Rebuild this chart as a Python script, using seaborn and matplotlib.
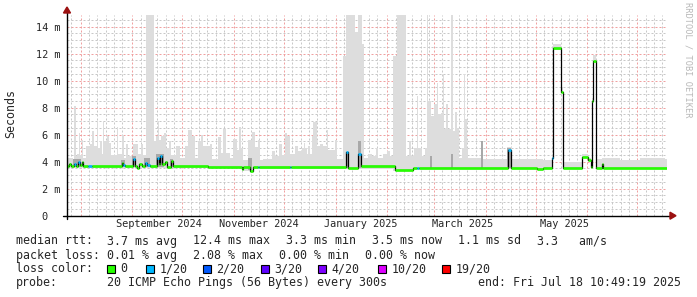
import numpy as np
import pandas as pd
import matplotlib
matplotlib.use("Agg")
import matplotlib.pyplot as plt
import seaborn as sns
from matplotlib.patches import Rectangle, Polygon

# ---------------- data ----------------
START = pd.Timestamp("2024-07-23 19:00")
SPAN_DAYS = 360
Y_MAX = 14.87

# smoke upper edge (max ping of 20) per segment: days since START, ms
smoke_day = [0, 3.6, 4.2, 5.4, 6.0, 7.2, 7.8, 9.0, 9.6, 11.4,
             13.8, 15.0, 16.2, 18.0, 18.6, 19.8, 21.0, 21.6, 22.2, 24.0,
             25.2, 26.4, 30.0, 30.6, 33.0, 34.2, 35.4, 36.6, 39.6, 42.6,
             44.4, 45.6, 47.4, 52.2, 53.4, 54.6, 55.2, 56.4, 58.2, 59.4,
             61.2, 62.4, 65.4, 67.8, 70.8, 72.6, 75.0, 76.8, 78.6, 80.4,
             81.6, 85.8, 87.0, 90.6, 92.4, 93.6, 95.4, 97.8, 99.6, 102.0,
             103.2, 104.4, 105.6, 108.6, 111.0, 112.8, 114.6, 115.8, 117.6, 123.0,
             124.8, 127.2, 129.0, 130.8, 132.0, 133.8, 136.8, 138.6, 141.0, 142.2,
             142.8, 144.0, 144.6, 145.8, 147.0, 147.6, 150.0, 151.8, 153.6, 156.0,
             156.6, 160.8, 162.0, 165.6, 167.4, 172.8, 174.6, 177.0, 178.2, 180.6,
             183.0, 185.4, 186.6, 189.6, 192.0, 193.8, 195.6, 198.0, 203.4, 205.2,
             206.4, 208.2, 210.0, 210.6, 213.0, 214.8, 216.0, 216.6, 218.4, 220.2,
             222.0, 222.6, 224.4, 225.6, 226.2, 227.4, 228.6, 230.4, 231.6, 232.8,
             234.0, 235.2, 237.0, 238.2, 238.8, 240.0, 240.6, 248.4, 249.6, 264.0,
             267.0, 282.0, 285.6, 291.0, 291.6, 296.4, 297.6, 309.0, 312.6, 314.4,
             315.0, 315.6, 317.4, 321.0, 331.8, 343.8, 358.8]
smoke_high = [4.3, 4.0, 8.1, 4.4, 4.6, 6.1, 4.5, 5.6, 4.3, 5.2,
              5.3, 6.3, 5.2, 7.0, 5.0, 5.5, 4.6, 7.0, 5.5, 5.9,
              5.4, 4.5, 6.6, 4.6, 6.0, 4.3, 5.3, 4.4, 5.3, 4.6,
              5.3, 4.5, 14.9, 5.5, 5.9, 7.0, 5.6, 5.9, 6.1, 5.0,
              5.5, 4.5, 5.2, 4.25, 5.2, 6.35, 5.9, 4.3, 5.5, 6.0,
              5.2, 5.3, 4.2, 5.8, 4.65, 6.4, 4.65, 4.3, 5.7, 4.9,
              6.6, 5.0, 4.1, 5.6, 6.2, 5.1, 5.6, 4.1, 4.2, 4.8,
              4.4, 5.3, 4.5, 6.1, 5.9, 4.6, 5.2, 4.8, 5.0, 5.4,
              5.0, 4.6, 5.2, 4.6, 5.9, 6.95, 5.2, 5.3, 5.2, 6.35,
              4.9, 5.6, 4.2, 11.8, 14.9, 13.6, 14.9, 12.7, 4.3, 4.6,
              4.4, 5.0, 4.3, 4.6, 4.8, 4.4, 11.8, 14.9, 4.4, 5.5,
              4.4, 5.0, 8.9, 5.0, 4.4, 5.0, 14.9, 8.5, 7.4, 8.3,
              9.8, 7.5, 7.6, 10.5, 6.4, 8.3, 6.4, 14.9, 6.3, 7.7,
              6.5, 4.3, 5.0, 10.5, 7.2, 5.0, 4.3, 5.4, 4.2, 5.1,
              4.2, 4.2, 4.1, 4.4, 12.7, 9.5, 3.95, 4.6, 4.3, 3.9,
              8.7, 11.9, 4.2, 4.3, 4.1, 4.3, 4.2]

# smoke lower edge (min ping of 20): days since START, ms
low_day = [0, 105.0, 112.2, 195.6, 208.2, 282.0, 285.6, 291.6, 296.4, 297.6,
           309.0, 312.6, 314.4, 315.0, 315.6, 317.4]
low_ms = [3.55, 3.3, 3.45, 3.3, 3.45, 3.35, 3.45, 12.25, 9.1, 3.45,
          4.3, 4.05, 3.5, 8.4, 11.4, 3.45]

# darker inner smoke bands (start day, end day, low ms, high ms)
dark_start = [3.6, 32.4, 39.0, 46.2, 53.4, 61.8, 108.6, 167.4, 174.6, 217.8, 230.4, 248.4, 264.0]
dark_end = [8.4, 34.8, 41.4, 49.8, 58.2, 63.6, 111.0, 168.6, 176.4, 219.0, 231.6, 249.6, 266.4]
dark_low = [3.6, 3.6, 3.6, 3.6, 3.6, 3.6, 3.4, 3.5, 3.5, 3.5, 3.5, 3.5, 3.5]
dark_high = [4.2, 4.1, 4.4, 4.3, 4.6, 4.2, 4.3, 4.7, 5.5, 4.4, 4.6, 5.5, 5.0]

# median rtt per segment (days since START, ms) and its loss class (index into loss_labels)
median_day = [0, 1.2, 2.4, 4.2, 5.4, 6.6, 7.8, 9.0, 9.6, 12.6,
              15.0, 33.0, 33.6, 34.8, 39.6, 40.8, 42.0, 43.2, 45.0, 46.8,
              48.0, 49.8, 54.0, 55.2, 55.8, 57.0, 58.8, 60.0, 62.4, 63.6,
              84.6, 105.0, 105.6, 109.8, 111.6, 114.6, 115.2, 133.8, 134.4, 167.4,
              168.6, 174.6, 176.4, 196.8, 207.6, 210.0, 211.2, 264.6, 266.4, 282.0,
              285.6, 291.0, 291.6, 296.4, 297.6, 309.0, 312.6, 314.4, 315.0, 315.6,
              317.4, 321.0, 321.6]
median_ms = [3.70, 3.85, 3.70, 3.80, 3.70, 4.00, 3.75, 4.00, 3.70, 3.70,
             3.70, 3.90, 3.75, 3.70, 4.20, 3.70, 3.55, 3.80, 3.70, 3.90,
             3.75, 3.70, 4.30, 3.80, 4.40, 3.85, 4.00, 3.60, 4.05, 3.70,
             3.60, 3.46, 3.60, 3.30, 3.58, 3.58, 3.58, 3.58, 3.58, 4.70,
             3.55, 4.60, 3.65, 3.38, 3.55, 3.55, 3.55, 4.85, 3.55, 3.45,
             3.55, 4.25, 12.40, 9.20, 3.55, 4.37, 4.12, 3.63, 8.50, 11.45,
             3.55, 3.80, 3.55]
median_loss = [0, 0, 0, 1, 0, 1, 0, 0, 0, 1,
               0, 0, 1, 0, 1, 0, 0, 0, 0, 1,
               1, 0, 1, 0, 1, 0, 0, 0, 0, 0,
               0, 0, 0, 0, 0, 1, 0, 1, 0, 1,
               0, 1, 0, 0, 0, 1, 0, 1, 0, 0,
               0, 1, 0, 0, 0, 0, 0, 0, 0, 0,
               0, 0, 0]

loss_labels = ["0", "1/20", "2/20", "3/20", "4/20", "10/20", "19/20"]
loss_colors = ["#26ff00", "#00b8ff", "#0059ff", "#5e00ff", "#7e00ff", "#dd00ff", "#ff0000"]

xtick_dates = ["2024-09-17", "2024-11-16", "2025-01-16", "2025-03-18", "2025-05-18"]
xtick_labels = ["September 2024", "November 2024", "January 2025", "March 2025", "May 2025"]
ytick_values = [0, 2, 4, 6, 8, 10, 12, 14]
ytick_labels = ["0  ", "2 m", "4 m", "6 m", "8 m", "10 m", "12 m", "14 m"]

rtt_texts = ["3.7 ms avg", "12.4 ms max", "3.3 ms min", "3.5 ms now", "1.1 ms sd", "3.3   am/s"]
loss_texts = ["0.01 % avg", "2.08 % max", "0.00 % min", "0.00 % now"]
probe_text = "20 ICMP Echo Pings (56 Bytes) every 300s"
end_text = "end: Fri Jul 18 10:49:19 2025"

# ---------------- style ----------------
sns.set_style("white")
plt.rcParams["font.family"] = ["DejaVu Sans Mono"]
MONO = "DejaVu Sans Mono"

W, H = 697, 297
fig = plt.figure(figsize=(W / 100, H / 100), dpi=100)
L, R, T, B = 67, 667, 15, 215.7
ax = fig.add_axes([L / W, 1 - B / H, (R - L) / W, (B - T) / H])
ax.set_xlim(0, SPAN_DAYS)
ax.set_ylim(0, Y_MAX)
for s in ax.spines.values():
    s.set_visible(False)
ax.set_facecolor("white")

def to_day(d):
    return (pd.Timestamp(d) - START) / pd.Timedelta(days=1)

# grid
month_starts = pd.date_range("2024-08-01", "2025-07-01", freq="MS")
minor_days = []
for m in month_starts.insert(0, pd.Timestamp("2024-07-01")):
    for k in (5, 10, 15, 20, 25):
        d = to_day(m + pd.Timedelta(days=k))
        if 0 < d < SPAN_DAYS:
            minor_days.append(d)
dots = (0, (2, 2))
for d in minor_days:
    ax.axvline(d, color="#c8c8c8", lw=0.72, ls=dots, zorder=0)
for v in np.arange(0.5, Y_MAX, 0.5):
    if abs(v % 2) > 1e-6:
        ax.axhline(v, color="#c8c8c8", lw=0.72, ls=dots, zorder=0)
for m in month_starts:
    ax.axvline(to_day(m), color="#f0a0a0", lw=0.72, ls=dots, zorder=0.5)
for v in ytick_values[1:]:
    ax.axhline(v, color="#f0a0a0", lw=0.72, ls=dots, zorder=0.5)

# smoke: combine the upper and lower step series on their common breakpoints
edges = np.array(sorted(set(smoke_day) | set(low_day)))
hi = np.array(smoke_high)[np.searchsorted(smoke_day, edges, side="right") - 1]
lo = np.array(low_ms)[np.searchsorted(low_day, edges, side="right") - 1]
ax.fill_between(np.append(edges, SPAN_DAYS), np.append(lo, lo[-1]), np.append(hi, hi[-1]),
                step="post", color="#dddddd", lw=0, zorder=2)
ax.bar(dark_start, np.array(dark_high) - np.array(dark_low), bottom=dark_low,
       width=np.array(dark_end) - np.array(dark_start), align="edge",
       color="#a8a8a8", lw=0, zorder=3)

# median: black step line, loss-coloured horizontal parts
med_edges = median_day + [SPAN_DAYS]
sns.lineplot(x=med_edges, y=median_ms + [median_ms[-1]], drawstyle="steps-post",
             color="black", lw=0.9, ax=ax, estimator=None, sort=False, zorder=4)
ax.hlines(median_ms, median_day, med_edges[1:],
          colors=[loss_colors[i] for i in median_loss], lw=1.9, zorder=5)

# ticks
ax.set_yticks(ytick_values)
ax.set_yticklabels(ytick_labels)
ax.set_xticks([to_day(d) for d in xtick_dates])
ax.set_xticklabels(xtick_labels)
ax.tick_params(axis="y", length=0, pad=5, labelsize=7.4)
ax.tick_params(axis="x", length=0, pad=2.5, labelsize=7.4)

# axis lines and arrows (axes-fraction coordinates)
def fx(px):
    return (px - L) / (R - L)

def fy(py):
    return (B - py) / (B - T)

ax.plot([fx(63), fx(671)], [0, 0], color="black", lw=1, transform=ax.transAxes, clip_on=False, zorder=6)
ax.plot([0, 0], [fy(219), fy(12)], color="black", lw=1, transform=ax.transAxes, clip_on=False, zorder=6)
ax.add_patch(Polygon([[fx(670), fy(212.2)], [fx(670), fy(219.2)], [fx(676), fy(215.7)]],
                     closed=True, color="#9b1010", transform=ax.transAxes, clip_on=False, zorder=7))
ax.add_patch(Polygon([[fx(63.5), fy(13)], [fx(70.5), fy(13)], [fx(67), fy(7)]],
                     closed=True, color="#9b1010", transform=ax.transAxes, clip_on=False, zorder=7))

# side texts
fig.text(11 / W, 1 - 114 / H, "Seconds", rotation=90, ha="center", va="center", size=8.4, family=MONO)
fig.text(688 / W, 1 - 60 / H, "RRDTOOL / TOBI OETIKER", rotation=270, ha="center", va="center",
         size=6.2, family=MONO, color="#b8b8b8")

# legend
FS = 8.4
def ftxt(x, y, s):
    fig.text(x / W, 1 - y / H, s, ha="left", va="baseline", size=FS, family=MONO)

y1, y2, y3, y4 = 244.5, 259.0, 272.5, 286.0
ftxt(16, y1, "median rtt:")
for x, s in zip([107, 193, 286, 372, 458, 537], rtt_texts):
    ftxt(x, y1, s)
ftxt(16, y2, "packet loss:")
for x, s in zip([107, 193, 279, 365], loss_texts):
    ftxt(x, y2, s)
ftxt(16, y3, "loss color:")
for x, lab, col in zip([107, 146, 203, 261, 318, 378, 442], loss_labels, loss_colors):
    fig.add_artist(Rectangle((x / W, 1 - 273 / H), 8 / W, 8 / H, facecolor=col,
                             edgecolor="black", lw=0.8, transform=fig.transFigure))
    ftxt(x + 13.5, y3, lab)
ftxt(16, y4, "probe:")
ftxt(107, y4, probe_text)
ftxt(478, y4, end_text)

fig.savefig("out.png", dpi=100, facecolor="white")
